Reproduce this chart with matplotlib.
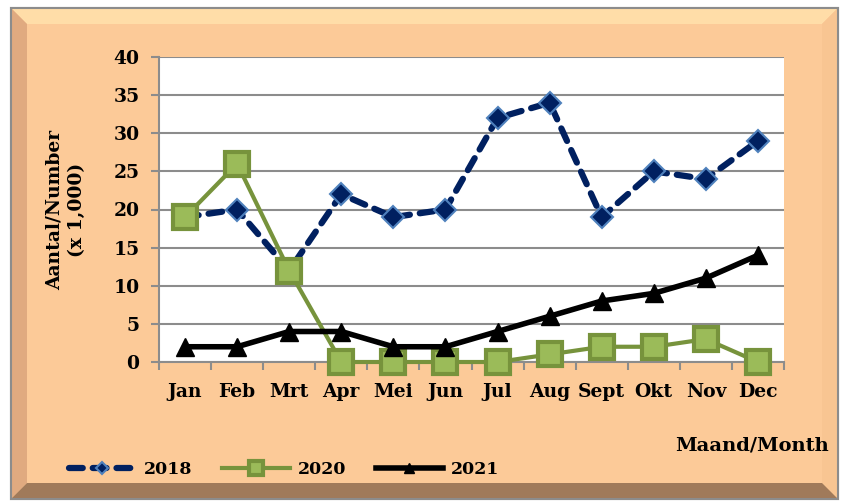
import matplotlib
matplotlib.use("Agg")
import matplotlib.pyplot as plt
from matplotlib.patches import Polygon, Rectangle

# data (x 1,000)
months = ["Jan", "Feb", "Mrt", "Apr", "Mei", "Jun", "Jul", "Aug", "Sept", "Okt", "Nov", "Dec"]
y2018 = [19, 20, 12, 22, 19, 20, 32, 34, 19, 25, 24, 29]
y2020 = [19, 26, 12, 0, 0, 0, 0, 1, 2, 2, 3, 0]
y2021 = [2, 2, 4, 4, 2, 2, 4, 6, 8, 9, 11, 14]
yticks = [0, 5, 10, 15, 20, 25, 30, 35, 40]

W, H = 841, 504
fig = plt.figure(figsize=(W / 100, H / 100), dpi=100)
fig.patch.set_facecolor("white")

def fx(px):
    return px / W

def fy(py):
    return 1 - py / H

# beveled tan frame
tan = "#FCCA98"
x0, x1, y0, y1 = 11, 838, 8, 499
b = 16
fig.patches.append(Rectangle((fx(x0), fy(y1)), fx(x1 - x0), (y1 - y0) / H,
                             transform=fig.transFigure, facecolor=tan,
                             edgecolor="#8c8c8c", lw=1.5, zorder=0))
# top highlight
fig.patches.append(Polygon([(fx(x0), fy(y0)), (fx(x1), fy(y0)), (fx(x1 - b), fy(y0 + b)),
                            (fx(x0 + b), fy(y0 + b))], closed=True, transform=fig.transFigure,
                           facecolor="#FFDDA8", edgecolor="none", zorder=0.5))
# left shade
fig.patches.append(Polygon([(fx(x0), fy(y0)), (fx(x0 + b), fy(y0 + b)), (fx(x0 + b), fy(y1 - b)),
                            (fx(x0), fy(y1))], closed=True, transform=fig.transFigure,
                           facecolor="#E0AA80", edgecolor="none", zorder=0.5))
# right side
fig.patches.append(Polygon([(fx(x1), fy(y0)), (fx(x1 - b), fy(y0 + b)), (fx(x1 - b), fy(y1 - b)),
                            (fx(x1), fy(y1))], closed=True, transform=fig.transFigure,
                           facecolor="#F8C592", edgecolor="none", zorder=0.5))
# bottom shadow
fig.patches.append(Polygon([(fx(x0), fy(y1)), (fx(x0 + b), fy(y1 - b)), (fx(x1 - b), fy(y1 - b)),
                            (fx(x1), fy(y1))], closed=True, transform=fig.transFigure,
                           facecolor="#A07A5A", edgecolor="none", zorder=0.5))
fig.patches.append(Rectangle((fx(x0), fy(y1)), fx(x1 - x0), (y1 - y0) / H,
                             transform=fig.transFigure, facecolor="none",
                             edgecolor="#8c8c8c", lw=1.5, zorder=0.6))

ax = fig.add_axes([fx(159), fy(362), fx(784 - 159), (362 - 57) / H])
ax.set_facecolor("white")
ax.set_zorder(2)

x = list(range(len(months)))
ax.plot(x, y2018, color="#002060", lw=4.5, ls=(0, (2.2, 1.6)), marker="D", ms=11,
        mfc="#002060", mec="#4F81BD", mew=1.5, label="2018", zorder=3,
        dash_capstyle="round", clip_on=False)
ax.plot(x, y2020, color="#77933C", lw=3, marker="s", ms=17,
        mfc="#9BBB59", mec="#77933C", mew=3, label="2020", zorder=4, clip_on=False)
ax.plot(x, y2021, color="black", lw=4, marker="^", ms=13,
        mfc="black", mec="black", label="2021", zorder=5, clip_on=False)

ax.set_xlim(-0.5, 11.5)
ax.set_ylim(0, 40)
ax.set_yticks(yticks)
ax.grid(axis="y", color="#8c8c8c", lw=1.5)
ax.set_axisbelow(True)
for s in ["top", "right"]:
    ax.spines[s].set_visible(False)
for s in ["left", "bottom"]:
    ax.spines[s].set_color("#8c8c8c")
    ax.spines[s].set_linewidth(1.5)

fnt = dict(family="DejaVu Serif", weight="bold")
ax.set_xticks(x)
ax.set_xticklabels(months, fontsize=13.5, **fnt)
ax.set_yticklabels([str(v) for v in yticks], fontsize=13.5, **fnt)
ax.set_xticks([i - 0.5 for i in range(13)], minor=True)
ax.tick_params(axis="x", which="major", length=0, pad=15)
ax.tick_params(axis="x", which="minor", length=6, width=1.5, color="#8c8c8c")
ax.tick_params(axis="y", length=6, width=1.5, color="#8c8c8c", pad=8)

fig.text(fx(66), fy(210), "Aantal/Number\n(x 1,000)", rotation=90, ha="center", va="center",
         fontsize=13.5, linespacing=1.35, **fnt)
fig.text(fx(829), fy(445), "Maand/Month", ha="right", va="center", fontsize=14, **fnt)

fig.legend(loc="center left", bbox_to_anchor=(fx(53), fy(470)), ncol=3, frameon=False,
           prop=dict(family="DejaVu Serif", weight="bold", size=12.5),
           handlelength=3.9, columnspacing=1.7, handletextpad=0.45, markerscale=0.6)

fig.savefig("out.png", dpi=100)
